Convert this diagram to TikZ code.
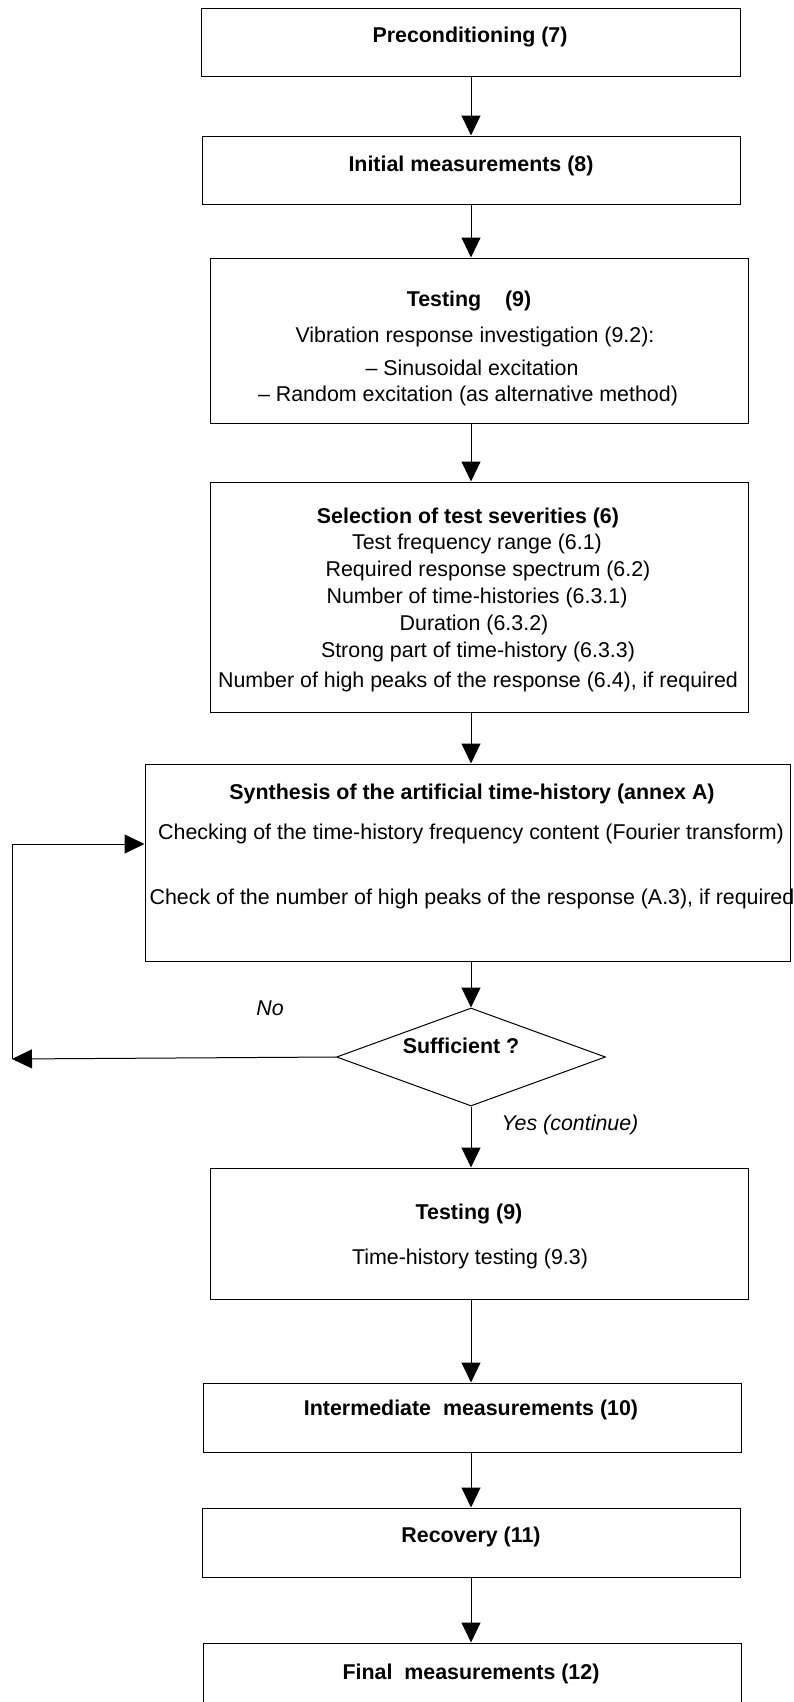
\documentclass[tikz,border=0pt]{standalone}
\usepackage{fontspec}
\setmainfont{Liberation Sans}
\usetikzlibrary{arrows.meta,shapes.geometric}
\begin{document}
\begin{tikzpicture}[x=1pt,y=-1pt,
  box/.style={draw, line width=1pt, inner sep=0pt, rectangle},
  arr/.style={draw, line width=1pt, -{Triangle[length=20pt,width=19pt]}},
  ln/.style={draw, line width=1pt},
  txt/.style={anchor=base, inner sep=0pt, font=\fontsize{21.4}{25}\selectfont},
  ttl/.style={anchor=base, inner sep=0pt, font=\fontsize{21.4}{25}\selectfont\bfseries},
  lbl/.style={anchor=base, inner sep=0pt, font=\fontsize{21.4}{25}\selectfont\itshape}]
\clip (0,0) rectangle (794,1702);
\fill[white] (0,0) rectangle (794,1702);
\coordinate (axis) at (471,0);

% boxes
\node[box, minimum width=539pt, minimum height=67pt] (b1) at (470.5,42.5) {};
\node[box, minimum width=538pt, minimum height=68pt] (b2) at (471,170) {};
\node[box, minimum width=538pt, minimum height=165pt] (b3) at (479,340.5) {};
\node[box, minimum width=538pt, minimum height=230pt] (b4) at (479,597) {};
\node[box, minimum width=645pt, minimum height=197pt] (b5) at (467.5,862.5) {};
\node[draw, line width=1pt, diamond, inner sep=0pt, minimum width=269pt, minimum height=98pt] (dia) at (471,1057) {};
\node[box, minimum width=538pt, minimum height=131pt] (b6) at (479,1233.5) {};
\node[box, minimum width=538pt, minimum height=69pt] (b7) at (472,1417.5) {};
\node[box, minimum width=538pt, minimum height=69pt] (b8) at (471,1542.5) {};
\node[box, minimum width=538pt, minimum height=77pt] (b9) at (472,1681.5) {};

% texts
\node[ttl] (t1) at (470,43) {Preconditioning (7)};
\node[ttl] (t2) at (471,171) {Initial measurements (8)};
\node[ttl] (t3a) at (469,306) {Testing\ \ \ \ (9)};
\node[txt] (t3b) at (475,342) {Vibration response investigation (9.2):};
\node[txt] (t3c) at (472,375) {\textendash\ Sinusoidal excitation};
\node[txt] (t3d) at (468,401) {\textendash\ Random excitation (as alternative method)};
\node[ttl] (t4a) at (468,523) {Selection of test severities (6)};
\node[txt] (t4b) at (477,549) {Test frequency range (6.1)};
\node[txt] (t4c) at (488,576) {Required response spectrum (6.2)};
\node[txt] (t4d) at (477,603) {Number of time-histories (6.3.1)};
\node[txt] (t4e) at (474,630) {Duration (6.3.2)};
\node[txt] (t4f) at (478,657) {Strong part of time-history (6.3.3)};
\node[txt] (t4g) at (478,687) {Number of high peaks of the response (6.4), if required};
\node[ttl] (t5a) at (472,799) {Synthesis of the artificial time-history (annex A)};
\node[txt] (t5b) at (471,839) {Checking of the time-history frequency content (Fourier transform)};
\node[txt] (t5c) at (472,904) {Check of the number of high peaks of the response (A.3), if required};
\node[ttl] (td) at (461,1053) {Sufficient ?};
\node[lbl] (no) at (270,1015) {No};
\node[lbl] (yes) at (570,1130) {Yes (continue)};
\node[ttl] (t6a) at (469,1219) {Testing (9)};
\node[txt] (t6b) at (470,1264) {Time-history testing (9.3)};
\node[ttl] (t7) at (471,1415) {Intermediate\ \ measurements (10)};
\node[ttl] (t8) at (471,1542) {Recovery (11)};
\node[ttl] (t9) at (471,1679) {Final\ \ measurements (12)};

% connectors
\draw[arr] (axis |- b1.south) -- (axis |- b2.north);
\draw[arr] (axis |- b2.south) -- (axis |- b3.north);
\draw[arr] (axis |- b3.south) -- (axis |- b4.north);
\draw[arr] (axis |- b4.south) -- (axis |- b5.north);
\draw[arr] (axis |- b5.south) -- (dia.north);
\draw[arr] (dia.south) -- (axis |- b6.north);
\draw[arr] (axis |- b6.south) -- (axis |- b7.north);
\draw[arr] (axis |- b7.south) -- (axis |- b8.north);
\draw[arr] (axis |- b8.south) -- (axis |- b9.north);

% loop back
\coordinate (lb) at (12,1059);
\coordinate (lt) at (12,844);
\draw[arr] (dia.west) -- (lb);
\draw[arr] (lb) -- (lt) -- (lt -| b5.west);
\end{tikzpicture}
\end{document}
